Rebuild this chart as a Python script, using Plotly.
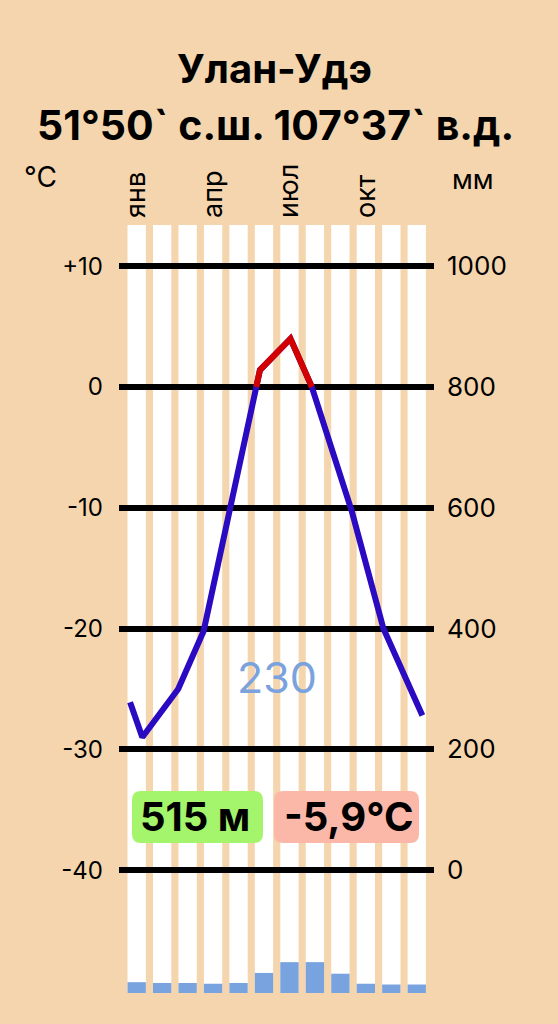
import plotly.graph_objects as go

# Данные климатограммы: Улан-Удэ
months = list(range(12))
month_ticks = [0, 3, 6, 9]
month_labels = ["янв", "апр", "июл", "окт"]

# температура (°C) по положению на шкале месяцев
temp_pos = [-0.26, 0.22, 1.63, 2.63, 4.84, 6.04, 6.88, 8.45, 9.69, 11.22]
temp_vals = [-26.1, -29.0, -25.0, -20.2, 1.4, 4.0, 0.0, -10.3, -20.0, -27.2]

# осадки (мм) по месяцам
precip = [14, 13, 13, 12, 13, 26, 40, 40, 25, 12, 11, 11]
precip_total = "230"

temp_ticks = [-40, -30, -20, -10, 0, 10]
temp_ticktext = ["-40", "-30", "-20", "-10", "0", "+10"]
mm_ticks = [0, 200, 400, 600, 800, 1000]

title1 = "Улан-Удэ"
title2 = "51°50` с.ш. 107°37` в.д."
height_label = "515 м"
mean_temp_label = "-5,9°C"

BG = "#F5D5AD"
FONT = "Inter"

# участок линии выше нуля (красный)
red_x, red_y = [], []
for i in range(len(temp_vals)):
    if i > 0 and (temp_vals[i - 1] < 0) != (temp_vals[i] < 0):
        t = (0 - temp_vals[i - 1]) / (temp_vals[i] - temp_vals[i - 1])
        red_x.append(temp_pos[i - 1] + t * (temp_pos[i] - temp_pos[i - 1]))
        red_y.append(0)
    if temp_vals[i] >= 0:
        red_x.append(temp_pos[i])
        red_y.append(temp_vals[i])

fig = go.Figure()

fig.add_trace(go.Bar(x=months, y=precip, width=0.72, marker_color="#79A3DE",
                     marker_line_width=0, yaxis="y3", hoverinfo="skip"))
fig.add_trace(go.Scatter(x=temp_pos, y=temp_vals, mode="lines",
                         line=dict(color="#2A0BC2", width=6)))
fig.add_trace(go.Scatter(x=red_x, y=red_y, mode="lines",
                         line=dict(color="#D20000", width=6)))
# невидимая трасса для правой шкалы
fig.add_trace(go.Scatter(x=[0], y=[0], yaxis="y2", mode="markers",
                         marker=dict(opacity=0), hoverinfo="skip"))

# белые столбцы месяцев
shapes = []
for m in months:
    shapes.append(dict(type="rect", xref="x", yref="paper", x0=m - 0.36, x1=m + 0.36,
                       y0=0, y1=1, fillcolor="white", line_width=0, layer="below"))


def rounded_box(cx, cy, w, h, r, color):
    x0, x1, y0, y1 = -w / 2, w / 2, -h / 2, h / 2
    path = (f"M {x0 + r},{y0} L {x1 - r},{y0} Q {x1},{y0} {x1},{y0 + r} "
            f"L {x1},{y1 - r} Q {x1},{y1} {x1 - r},{y1} L {x0 + r},{y1} "
            f"Q {x0},{y1} {x0},{y1 - r} L {x0},{y0 + r} Q {x0},{y0} {x0 + r},{y0} Z")
    return dict(type="path", path=path, xref="paper", yref="paper",
                xsizemode="pixel", ysizemode="pixel", xanchor=cx, yanchor=cy,
                fillcolor=color, line_width=0, layer="above")


shapes.append(rounded_box(0.2492, 0.2292, 131, 52, 9, "#A4F46C"))
shapes.append(rounded_box(0.7222, 0.2292, 145, 52, 9, "#FBB8A8"))


def label(text, x, y, size, color="black", bold=False, ref="paper"):
    return dict(text=text, x=x, y=y, xref="x" if ref == "data" else "paper",
                yref="y" if ref == "data" else "paper", showarrow=False,
                xanchor="center", yanchor="middle",
                font=dict(family=FONT, size=size, color=color,
                          weight="bold" if bold else "normal"))


annotations = [
    label(title1, 0.495, 1.204, 40, bold=True),
    label(title2, 0.497, 1.130, 41, bold=True),
    label("°C", -0.249, 1.0625, 28),
    label("мм", 1.124, 1.0586, 27),
    label(precip_total, 5.5, -24, 43, color="#7AA3DE", ref="data"),
    label(height_label, 0.2406, 0.2298, 40, bold=True),
    label(mean_temp_label, 0.7298, 0.2298, 40, bold=True),
]

fig.update_layout(
    width=558, height=1024,
    margin=dict(l=119, r=124, t=225, b=31),
    paper_bgcolor=BG, plot_bgcolor=BG,
    showlegend=False,
    shapes=shapes,
    annotations=annotations,
    xaxis=dict(range=[-0.695, 11.677], side="top", tickvals=month_ticks,
               ticktext=month_labels, tickangle=-90, showgrid=False, zeroline=False,
               showline=False, ticks="", ticklabelstandoff=6,
               tickfont=dict(family=FONT, size=27, color="black")),
    yaxis=dict(range=[-50.17, 13.41], tickvals=temp_ticks, ticktext=temp_ticktext,
               showgrid=True, gridcolor="black", gridwidth=6, zeroline=False,
               showline=False, ticks="", ticklabelstandoff=15,
               tickfont=dict(family=FONT, size=24, color="black")),
    yaxis2=dict(range=[-203.4, 1068.2], overlaying="y", side="right", tickvals=mm_ticks,
                showgrid=False, zeroline=False, showline=False, ticks="",
                ticklabelstandoff=12,
                tickfont=dict(family=FONT, size=26, color="black")),
    yaxis3=dict(range=[0, 995], overlaying="y", visible=False),
)

# убрать отступ страницы, чтобы график начинался с угла окна
fig.write_html("out.html", config={"displayModeBar": False},
               post_script="document.body.style.margin='0';")
